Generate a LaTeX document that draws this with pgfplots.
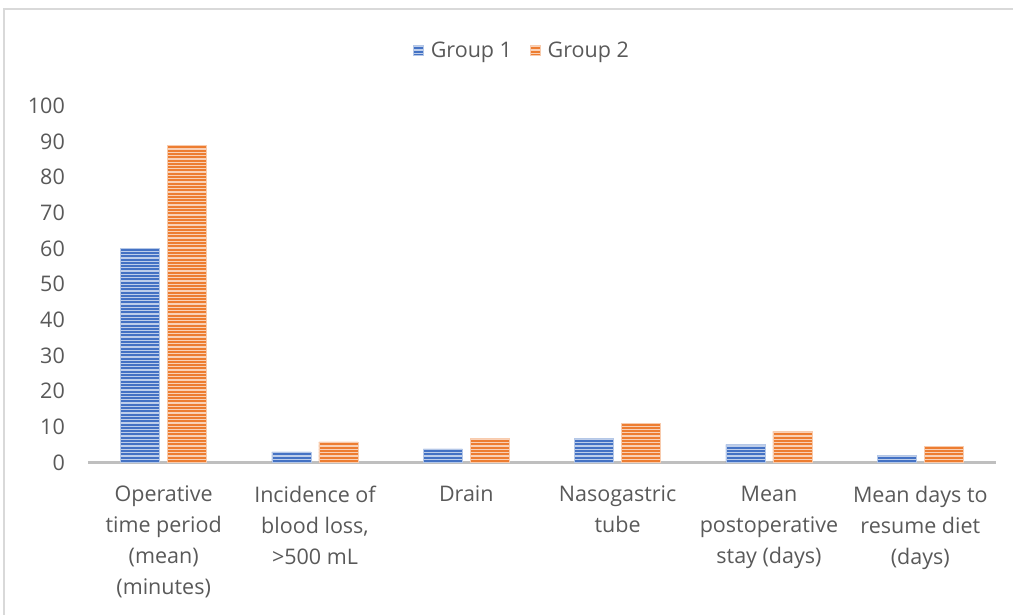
\documentclass[border=0pt]{standalone}
\usepackage{pgfplots}
\pgfplotsset{compat=1.18}
\usetikzlibrary{patterns}
\usepackage{fontspec}
\setmainfont{Open Sans}
\definecolor{cblue}{HTML}{4472C4}
\definecolor{corange}{HTML}{ED7D31}
\definecolor{txt}{HTML}{595959}
\definecolor{axl}{HTML}{BFBFBF}
\definecolor{frm}{HTML}{D9D9D9}
\pgfdeclarepatternformonly{hstripes}{\pgfqpoint{-2pt}{0pt}}{\pgfqpoint{12pt}{3.3pt}}{\pgfqpoint{10pt}{3.3pt}}{%
  \pgfpathrectangle{\pgfqpoint{-2pt}{0pt}}{\pgfqpoint{14pt}{1.3pt}}\pgfusepath{fill}}
\begin{document}
\begin{tikzpicture}
\path[use as bounding box] (0,0) rectangle (1013pt,615pt);
\draw[frm,line width=1.5pt] (4pt,0) -- (4pt,606pt) -- (1013pt,606pt);
\begin{axis}[
  at={(88pt,152.5pt)}, anchor=south west,
  scale only axis, width=908pt, height=356.5pt,
  xmin=-0.5, xmax=5.5, ymin=0, ymax=100,
  ybar=8pt, bar width=39pt,
  axis x line*=bottom, axis y line*=left,
  x axis line style={draw=axl, line width=3pt, -},
  y axis line style={draw=none},
  major tick length=0pt,
  xtick={0,1,2,3,4,5},
  xticklabels={{Operative\\time period\\(mean)\\(minutes)},{Incidence of\\blood loss,\\>500 mL},{Drain},{Nasogastric\\tube},{Mean\\postoperative\\stay (days)},{Mean days to\\resume diet\\(days)}},
  ytick={0,10,...,100},
  tick label style={font=\fontsize{21.5}{31}\selectfont, text=txt},
  xticklabel style={align=center, anchor=north, inner sep=0pt, yshift=-23pt},
  yticklabel style={anchor=east, inner sep=0pt, xshift=-23pt},
  /pgf/number format/assume math mode=true,
  legend columns=2,
  legend style={at={(0.478,1.157)}, anchor=center, draw=none, fill=none,
    font=\fontsize{21.5}{24}\selectfont, text=txt,
    /tikz/every even column/.append style={column sep=16pt}},
  legend image code/.code={\path[#1,draw=none] (0pt,-5pt) rectangle (10pt,5pt); \path (15pt,0pt);},
]
\addplot[fill=cblue, draw=cblue!40!white, line width=0.6pt, postaction={pattern=hstripes, pattern color=cblue!35!white}]
  coordinates {(0,60) (1,3) (2,3.8) (3,6.8) (4,5.1) (5,1.9)};
\addplot[fill=corange, draw=corange!40!white, line width=0.6pt, postaction={pattern=hstripes, pattern color=corange!35!white}]
  coordinates {(0,89) (1,5.8) (2,6.8) (3,11) (4,8.8) (5,4.6)};
\legend{Group 1, Group 2}
\end{axis}
\end{tikzpicture}
\end{document}
